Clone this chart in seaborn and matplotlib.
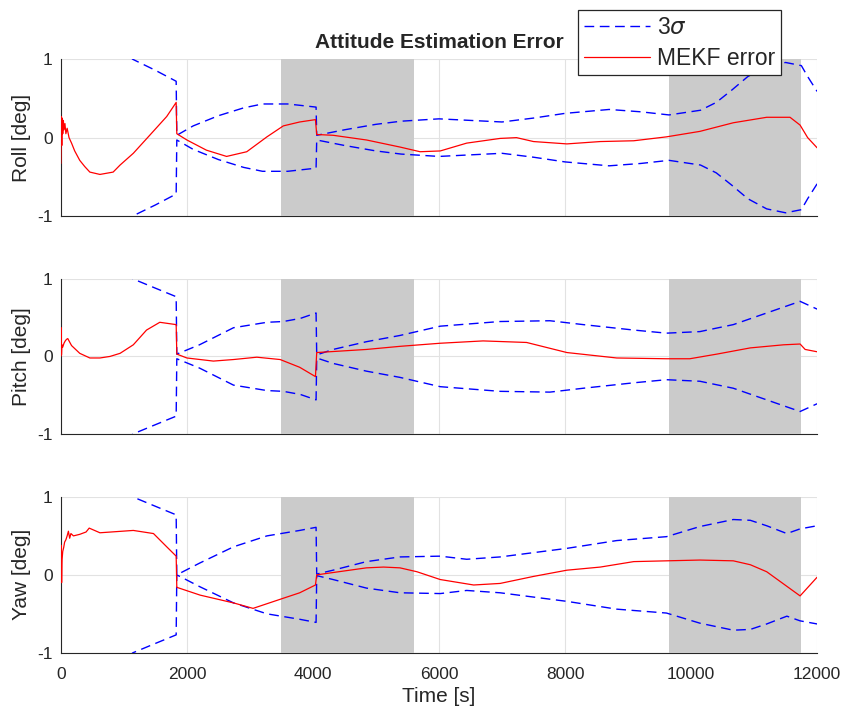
import numpy as np
import matplotlib
matplotlib.use("Agg")
import matplotlib.pyplot as plt
import seaborn as sns

# 3-sigma bounds (deg) per axis, symmetric about zero
roll_sig_t = [0, 500, 1143, 1500, 1830, 1840, 2100, 2500, 2900, 3200, 3600, 4050, 4060, 4500,
              5000, 5400, 6000, 6500, 7000, 7500, 8000, 8700, 9200, 9650, 10150, 10400, 10650,
              10900, 11200, 11500, 11750, 11850, 12000]
roll_sig = [3.0, 1.45, 1.0, 0.86, 0.72, 0.03, 0.15, 0.28, 0.38, 0.43, 0.43, 0.39, 0.03, 0.10,
            0.17, 0.21, 0.24, 0.22, 0.20, 0.25, 0.31, 0.36, 0.33, 0.29, 0.35, 0.45, 0.61,
            0.78, 0.91, 0.96, 0.92, 0.78, 0.59]

pitch_sig_t = [0, 500, 1143, 1500, 1830, 1840, 2200, 2740, 3270, 3530, 3800, 4050, 4060, 4320,
               4850, 5380, 6020, 6970, 7760, 8290, 9090, 9610, 10140, 10670, 11200, 11730, 12000]
pitch_sig = [3.0, 1.45, 1.0, 0.88, 0.77, 0.03, 0.15, 0.37, 0.44, 0.45, 0.49, 0.56, 0.02, 0.09,
             0.19, 0.27, 0.39, 0.45, 0.46, 0.41, 0.34, 0.30, 0.32, 0.41, 0.56, 0.71, 0.61]

yaw_sig_t = [0, 500, 1143, 1500, 1830, 1840, 2200, 2740, 3270, 3790, 4050, 4060, 4320, 4850,
             5380, 6020, 6440, 6970, 8030, 8820, 9610, 10140, 10670, 10940, 11200, 11520,
             11730, 12000]
yaw_sig = [3.0, 1.45, 1.0, 0.88, 0.77, 0.0, 0.15, 0.36, 0.50, 0.57, 0.61, 0.01, 0.06, 0.17,
           0.23, 0.24, 0.20, 0.23, 0.34, 0.44, 0.49, 0.62, 0.71, 0.70, 0.63, 0.53,
           0.59, 0.63]

# MEKF estimation error (deg)
roll_err_t = [0, 8, 15, 22, 30, 40, 50, 65, 80, 100, 130, 170, 220, 300, 380, 460, 620, 830,
              940, 1150, 1410, 1680, 1830, 1840, 2000, 2310, 2630, 2950, 3270, 3530, 3790,
              4040, 4060, 4320, 4850, 5380, 5700, 6020, 6440, 6970, 7230, 7500, 8030, 8560,
              9090, 9610, 10140, 10670, 11200, 11570, 11730, 11850, 12000]
roll_err = [-0.33, 0.27, -0.1, 0.25, 0.05, 0.22, 0.1, 0.18, 0.05, 0.12, 0.0, -0.07, -0.17,
            -0.29, -0.37, -0.44, -0.47, -0.44, -0.35, -0.20, 0.03, 0.27, 0.45, 0.05, -0.03,
            -0.16, -0.24, -0.18, 0.01, 0.15, 0.20, 0.23, 0.04, 0.03, -0.03, -0.12, -0.18,
            -0.17, -0.07, -0.01, 0.0, -0.05, -0.08, -0.05, -0.04, 0.01, 0.08, 0.19, 0.26,
            0.26, 0.16, 0.0, -0.13]

pitch_err_t = [0, 5, 10, 18, 30, 50, 70, 90, 110, 130, 170, 300, 460, 620, 780, 940, 1150,
               1360, 1570, 1830, 1840, 2000, 2420, 2740, 3110, 3480, 3790, 4040, 4060, 4850,
               5380, 6020, 6700, 7390, 8030, 8820, 9610, 9980, 10410, 10940, 11470, 11730,
               11810, 12000]
pitch_err = [0.0, 0.37, 0.02, 0.15, 0.12, 0.17, 0.2, 0.22, 0.23, 0.2, 0.14, 0.04, -0.02,
             -0.02, 0.0, 0.04, 0.15, 0.34, 0.44, 0.41, 0.03, -0.02, -0.06, -0.04, -0.01,
             -0.04, -0.14, -0.26, 0.05, 0.09, 0.13, 0.17, 0.20, 0.18, 0.05, -0.02, -0.03,
             -0.03, 0.03, 0.11, 0.15, 0.16, 0.09, 0.06]

yaw_err_t = [0, 5, 12, 20, 30, 45, 60, 80, 100, 120, 140, 160, 200, 300, 400, 450, 620, 1150,
             1470, 1680, 1830, 1840, 2210, 2740, 3050, 3530, 3790, 4040, 4060, 4320, 4850,
             5120, 5380, 5650, 6020, 6550, 6970, 7500, 8030, 8560, 9090, 9610, 10140, 10670,
             10940, 11200, 11730, 12000]
yaw_err = [0.1, 0.38, -0.1, 0.2, 0.3, 0.35, 0.42, 0.45, 0.5, 0.56, 0.47, 0.53, 0.5, 0.52,
           0.55, 0.6, 0.54, 0.57, 0.53, 0.36, 0.24, -0.16, -0.26, -0.36, -0.43, -0.30, -0.23,
           -0.13, 0.0, 0.03, 0.09, 0.10, 0.09, 0.04, -0.06, -0.13, -0.11, -0.02, 0.06, 0.10,
           0.17, 0.18, 0.19, 0.18, 0.13, 0.04, -0.27, -0.03]

# eclipse windows (s)
shade_start = [3500, 9650]
shade_end = [5600, 11750]

axis_names = ["Roll [deg]", "Pitch [deg]", "Yaw [deg]"]
xticks = [0, 2000, 4000, 6000, 8000, 10000, 12000]

sns.set_style("white")
plt.rcParams['font.family'] = ['Liberation Sans', 'DejaVu Sans']
plt.rcParams['axes.unicode_minus'] = False

fig = plt.figure(figsize=(8.45, 7.15), dpi=100)
positions = [[0.072, 0.698, 0.895, 0.219],
             [0.072, 0.393, 0.895, 0.217],
             [0.072, 0.087, 0.895, 0.218]]

series = [(roll_sig_t, roll_sig, roll_err_t, roll_err),
          (pitch_sig_t, pitch_sig, pitch_err_t, pitch_err),
          (yaw_sig_t, yaw_sig, yaw_err_t, yaw_err)]

axes = []
for i, (st, sv, et, ev) in enumerate(series):
    ax = fig.add_axes(positions[i])
    axes.append(ax)
    sv = np.array(sv)
    for s0, s1 in zip(shade_start, shade_end):
        ax.axvspan(s0, s1, color='#cbcbcb', lw=0, zorder=2.6)
    sns.lineplot(x=st, y=sv, ax=ax, color='#0000ff', lw=1.0, ls=(0, (7, 4)),
                 estimator=None, sort=False, zorder=3, label=r'3$\sigma$')
    sns.lineplot(x=st, y=-sv, ax=ax, color='#0000ff', lw=1.0, ls=(0, (7, 4)),
                 estimator=None, sort=False, zorder=3)
    sns.lineplot(x=et, y=ev, ax=ax, color='#ff0000', lw=0.9,
                 estimator=None, sort=False, zorder=3, label='MEKF error')
    ax.set_xlim(0, 12000)
    ax.set_ylim(-1, 1)
    ax.set_xticks(xticks)
    ax.set_yticks([-1, 0, 1])
    ax.set_axisbelow(True)
    ax.grid(True, color='#e2e2e2', lw=0.8)
    for side in ['top', 'right']:
        ax.spines[side].set_visible(False)
    for side in ['left', 'bottom']:
        ax.spines[side].set_color('#262626')
        ax.spines[side].set_linewidth(0.8)
    ax.tick_params(direction='in', length=4.5, width=0.8, color='#262626',
                   labelsize=12.5, labelcolor='#262626')
    ax.tick_params(axis='y', pad=6)
    ax.tick_params(axis='x', pad=10)
    ax.set_ylabel(axis_names[i], fontsize=15, color='#262626')
    ax.yaxis.set_label_coords(-0.04, 0.5)
    if i < 2:
        ax.set_xticklabels([])
        ax.set_xlabel('')
    else:
        ax.set_xlabel('Time [s]', fontsize=15, color='#262626')
    ax.get_legend().remove()

axes[0].set_title('Attitude Estimation Error', fontsize=15, fontweight='bold', pad=8)

handles, labels = axes[0].get_legend_handles_labels()
leg = fig.legend(handles, labels, loc='upper right', bbox_to_anchor=(781 / 845, 1 - 10 / 715),
                 fontsize=16.5, frameon=True, fancybox=False, framealpha=1, edgecolor='#262626',
                 handlelength=2.9, handletextpad=0.3, labelspacing=0.35, borderpad=0.25,
                 borderaxespad=0)
leg.get_frame().set_linewidth(0.9)

fig.savefig('out.png', dpi=100)
